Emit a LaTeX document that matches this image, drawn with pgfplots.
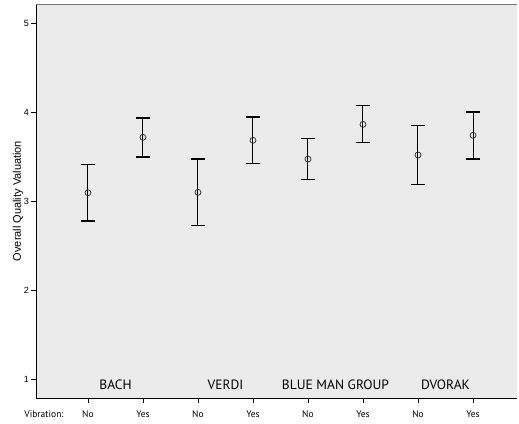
\documentclass[border=0pt]{standalone}
\usepackage{fontspec}
\setmainfont{PT Sans}
\newfontfamily\arialf{Liberation Sans}
\usepackage{pgfplots}
\usepackage{pgfplotstable}
\pgfplotsset{compat=1.18}
\pgfplotstableread{
x y ep em
0 3.098 0.314 0.318
1 3.719 0.217 0.221
2 3.102 0.374 0.370
3 3.686 0.261 0.263
4 3.476 0.232 0.232
5 3.865 0.209 0.206
6 3.521 0.329 0.329
7 3.742 0.261 0.266
}\datatab
\begin{document}
\begin{tikzpicture}
\useasboundingbox (-36.5pt,-25pt) rectangle (482.5pt,398pt);
\begin{axis}[
  scale only axis,
  width=480.5pt, height=394pt,
  xmin=-0.936, xmax=7.8,
  ymin=0.795, ymax=5.215,
  axis x line=bottom, axis y line=left,
  axis line style={-, black, line width=0.8pt},
  axis background/.style={fill=black!8},
  xtick={0,...,7},
  xticklabels={No,Yes,No,Yes,No,Yes,No,Yes},
  extra x ticks={-0.8},
  extra x tick labels={Vibration:},
  extra x tick style={major tick length=0pt, xticklabel style={yshift=-5pt}},
  ytick={1,2,3,4,5},
  tick align=outside,
  major tick length=5pt,
  tick style={black, line width=0.8pt},
  xticklabel style={font=\fontsize{9.5}{11}\selectfont, text height=7pt, text depth=2pt, yshift=-4pt},
  yticklabel style={font=\arialf\fontsize{9}{10}\selectfont, xshift=1pt},
  /pgf/number format/assume math mode=true,
  ylabel={Overall Quality Valuation},
  ylabel style={font=\arialf\fontsize{11}{12}\selectfont, yshift=-6pt},
  clip=false,
]
\draw[black!55, line width=0.8pt] (rel axis cs:0,1) -- (rel axis cs:1,1);
\addplot[only marks, black, mark=o, mark size=3pt, mark options={line width=0.7pt, black!85},
  error bars/.cd, y dir=both, y explicit,
  error bar style={black, line width=1pt},
  error mark options={rotate=90, mark size=7pt, line width=1.2pt, black}]
  table[x=x, y=y, y error plus=ep, y error minus=em] {\datatab};
\node[font=\fontsize{13.5}{15}\selectfont] at (axis cs:0.5,0.94) {BACH};
\node[font=\fontsize{13.5}{15}\selectfont] at (axis cs:2.5,0.94) {VERDI};
\node[font=\fontsize{13.5}{15}\selectfont] at (axis cs:4.5,0.94) {BLUE MAN GROUP};
\node[font=\fontsize{13.5}{15}\selectfont] at (axis cs:6.5,0.94) {DVORAK};
\end{axis}
\end{tikzpicture}
\end{document}
